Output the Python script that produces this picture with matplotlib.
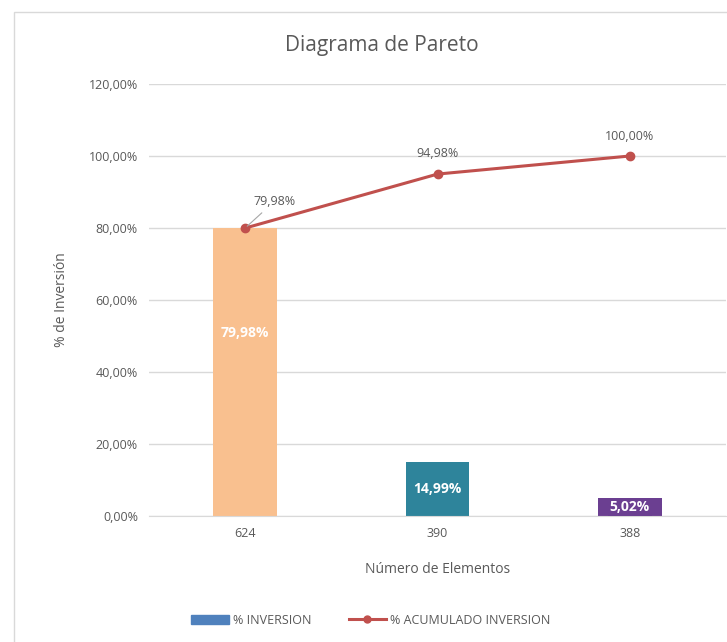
import matplotlib.pyplot as plt
from matplotlib.patches import Rectangle, Patch
from matplotlib.lines import Line2D
from matplotlib.ticker import FuncFormatter

plt.rcParams['font.family'] = ['Open Sans', 'DejaVu Sans']

elementos = ["624", "390", "388"]
pct_inversion = [79.98, 14.99, 5.02]
pct_acumulado = [79.98, 94.98, 100.00]
colores = ["#F9C08F", "#2E849B", "#6B3F91"]

texto_gris = "#595959"
rojo = "#C0504D"


def fmt_pct(v, _pos=None):
    return f"{v:.2f}%".replace(".", ",")


fig = plt.figure(figsize=(7.27, 6.42), dpi=100)

# marco exterior del grafico
fig.patches.append(Rectangle((14 / 727, -0.01), 1.0, 1 - 12 / 642 + 0.01,
                             transform=fig.transFigure, fill=False,
                             edgecolor="#D9D9D9", linewidth=1.0))

ax = fig.add_axes([149 / 727, 126 / 642, 577 / 727, 432 / 642])
x = range(len(elementos))

ax.bar(x, pct_inversion, width=0.33, color=colores, zorder=2)
ax.plot(x, pct_acumulado, color=rojo, linewidth=2.2, marker="o",
        markersize=6, zorder=3)

ax.set_xlim(-0.5, len(elementos) - 0.5)
ax.set_ylim(0, 120)
ax.set_yticks(range(0, 121, 20))
ax.yaxis.set_major_formatter(FuncFormatter(fmt_pct))
ax.set_xticks(list(x))
ax.set_xticklabels(elementos)
ax.tick_params(axis="both", length=0, labelsize=9, colors=texto_gris, pad=8)
ax.grid(axis="y", color="#D9D9D9", linewidth=1.0, zorder=0)
for side in ["top", "right", "left"]:
    ax.spines[side].set_visible(False)
ax.spines["bottom"].set_color("#D9D9D9")

fig.text(382 / 727, 1 - 45 / 642, "Diagrama de Pareto", fontsize=15,
         color=texto_gris, ha="center", va="center")
ax.set_ylabel("% de Inversión", fontsize=10, color=texto_gris, labelpad=14)
ax.set_xlabel("Número de Elementos", fontsize=10, color=texto_gris, labelpad=16)

# etiquetas dentro de las barras
etq_y = [50.8, pct_inversion[1] / 2, pct_inversion[2] / 2]
for i, (v, yy) in enumerate(zip(pct_inversion, etq_y)):
    ax.text(i, yy, fmt_pct(v), ha="center", va="center", color="white",
            fontsize=10, fontweight="bold", zorder=4,
            bbox=dict(boxstyle="square,pad=0.15", fc=colores[i], ec="none")
            if v < 10 else None)

# etiquetas de la linea acumulada
ax.annotate(fmt_pct(pct_acumulado[0]), xy=(0, pct_acumulado[0]),
            xytext=(0.15, 85.5), ha="center", va="bottom", fontsize=9,
            color=texto_gris,
            arrowprops=dict(arrowstyle="-", color="#A6A6A6", lw=0.8))
for i, dy in ((1, 10), (2, 9)):
    ax.annotate(fmt_pct(pct_acumulado[i]), xy=(i, pct_acumulado[i]),
                xytext=(0, dy), textcoords="offset points", ha="center",
                va="bottom", fontsize=9, color=texto_gris)

handles = [Patch(color="#4F81BD", label="% INVERSION"),
           Line2D([], [], color=rojo, linewidth=2.2, marker="o",
                  markersize=5, label="% ACUMULADO INVERSION")]
fig.legend(handles=handles, loc="center", bbox_to_anchor=(0.51, 1 - 620 / 642),
           ncol=2, frameon=False, fontsize=9, labelcolor=texto_gris,
           handlelength=3.0, columnspacing=3.0, handletextpad=0.3)

fig.savefig("out.png", dpi=100)
